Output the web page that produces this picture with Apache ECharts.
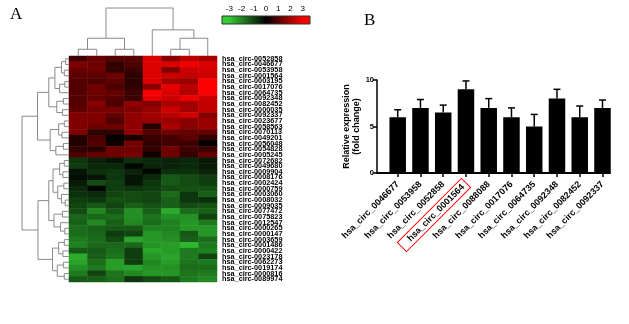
<!DOCTYPE html>
<html><head><meta charset="utf-8">
<script src="https://cdn.jsdelivr.net/npm/echarts@6/dist/echarts.min.js"></script>
<style>html,body{margin:0;padding:0;background:#fff}#c{width:629px;height:324px}</style>
</head><body><div id="c"></div>
<script>
// ---------- Panel A: heatmap ----------
const heatCols = ['S1','S2','S3','S4','S5','S6','S7','S8'];
const rowIds = ['0052858','0046677','0053958','0001564','0003195','0017076','0064735','0092348','0082452','0000035',
  '0092337','0023677','0058563','0070113','0049201','0056048','0054828','0005245','0072682','0049680',
  '0009904','0008176','0002424','0000759','0003060','0008032','0009035','0077472','0075823','0012547',
  '0000265','0000147','0003659','0001486','0000422','0023178','0062273','0019174','0000816','0089974'];
const heatValues = [
  [0.7,1.2,1.0,1.0,2.6,1.6,2.2,2.0],
  [1.5,1.3,0.6,0.9,2.6,2.6,2.8,2.6],
  [1.2,1.3,0.6,0.7,2.6,1.5,2.4,2.5],
  [1.1,1.1,1.3,0.5,2.6,2.4,2.3,2.4],
  [1.0,0.9,1.1,0.5,2.6,1.9,1.8,3.0],
  [1.0,1.3,0.9,0.6,1.6,2.7,2.2,3.3],
  [1.0,1.3,1.2,0.7,3.0,2.6,2.1,3.3],
  [1.0,1.2,1.0,0.7,2.7,2.4,2.8,2.4],
  [1.0,1.6,0.9,1.7,1.5,2.0,1.9,2.3],
  [1.1,1.4,1.4,1.5,1.8,2.4,1.9,2.3],
  [1.5,1.5,1.2,1.7,1.9,2.2,2.5,1.6],
  [1.5,1.5,0.9,1.7,1.8,1.8,1.6,1.8],
  [1.5,1.3,1.3,1.7,0.4,2.0,1.6,1.8],
  [1.5,0.5,0.6,1.7,1.0,1.3,1.2,1.2],
  [0.4,0.9,0.0,0.3,0.7,0.8,1.1,0.6],
  [0.4,1.0,0.2,1.4,0.6,0.8,0.7,0.0],
  [0.6,0.5,1.3,1.3,0.6,1.3,0.8,0.7],
  [0.9,1.2,1.3,1.4,0.2,1.3,0.6,1.2],
  [-0.8,-0.5,-0.3,-0.7,-0.6,-0.5,-0.6,-0.4],
  [-0.9,-0.6,-0.6,-0.1,-0.5,-0.5,-0.6,-0.4],
  [-0.3,-0.7,-0.8,-0.5,-0.1,-0.7,-0.7,-0.5],
  [-0.2,-0.3,-0.8,-0.3,-0.6,-1.3,-1.1,-0.9],
  [-0.4,-1.1,-0.9,-0.3,-0.8,-1.3,-1.1,-0.9],
  [-0.6,-0.1,-0.9,-0.8,-0.9,-1.1,-1.2,-1.2],
  [-0.7,-0.6,-1.0,-1.1,-1.0,-1.6,-0.8,-1.4],
  [-0.9,-0.8,-1.2,-1.1,-1.0,-1.4,-0.8,-0.7],
  [-1.0,-1.3,-1.0,-1.4,-1.2,-1.4,-1.1,-1.2],
  [-1.1,-2.0,-1.3,-2.1,-1.4,-2.5,-1.6,-1.4],
  [-1.5,-1.5,-1.6,-2.1,-1.7,-2.1,-2.1,-1.0],
  [-1.4,-2.0,-1.4,-2.0,-1.6,-1.9,-2.2,-1.8],
  [-1.6,-1.4,-1.3,-1.3,-1.9,-1.9,-2.2,-2.2],
  [-1.6,-1.5,-0.9,-1.0,-2.2,-2.0,-1.3,-2.2],
  [-1.8,-1.6,-1.1,-2.4,-2.2,-2.1,-1.4,-1.6],
  [-1.9,-1.5,-1.5,-1.5,-2.2,-2.3,-2.7,-1.8],
  [-1.3,-1.3,-1.6,-0.9,-2.4,-2.3,-1.8,-1.9],
  [-2.5,-1.4,-1.7,-0.9,-2.2,-2.4,-1.8,-1.0],
  [-2.4,-1.6,-2.3,-0.9,-2.0,-2.3,-1.7,-1.8],
  [-2.1,-1.8,-2.3,-2.4,-2.1,-2.1,-1.6,-1.6],
  [-1.8,-1.0,-1.7,-2.0,-2.2,-2.2,-1.7,-1.8],
  [-1.3,-1.4,-1.6,-0.8,-1.1,-1.3,-1.8,-2.0]
];
// dendrograms: [mergeHeight, left, right], leaves = index
const colTree = [10, [3.7, [1.4, 0, 1], [1.4, 2, 3]], [5.45, 4, [3.7, [1.4, 5, 6], 7]]];
const rowTree = [10,
  [6.7,
    [4.3, [3.0, [1.6, [0.7, 0, 1], [1.0, 2, 3]], [2.0, [0.9, 4, 5], 6]], [2.6, [1.2, 7, 8], [1.4, 9, 10]]],
    [4.0, [2.2, [1.0, 11, 12], [1.5, 13, 14]], [2.8, [1.2, 15, 16], 17]]],
  [6.6,
    [4.3, [3.4, [2.0, [1.0, 18, 19], [1.3, 20, 21]], [2.4, [1.1, 22, 23], [1.6, 24, [0.8, 25, 26]]]],
          [3.2, [1.4, 27, 28], [1.8, 29, [0.9, 30, 31]]]],
    [3.5, [2.2, [1.0, 32, 33], [1.3, 34, 35]], [2.5, [1.2, 36, 37], [1.0, 38, 39]]]]
];
const legendTicks = [-3, -2, -1, 0, 1, 2, 3];
const colorMin = -3, colorMax = 3;
const heatColors = ['#33cc33', '#000000', '#ff0000'];

// ---------- Panel B: bars ----------
const barCats = ['hsa_circ_0046677','hsa_circ_0053958','hsa_circ_0052858','hsa_circ_0001564','hsa_circ_0088088',
  'hsa_circ_0017076','hsa_circ_0064735','hsa_circ_0092348','hsa_circ_0082452','hsa_circ_0092337'];
const barValues = [6.0, 7.0, 6.5, 9.0, 7.0, 6.0, 5.0, 8.0, 6.0, 7.0];
const barErrors = [0.8, 0.9, 0.8, 0.9, 1.0, 1.0, 1.3, 1.0, 1.2, 0.85];
const highlightedCat = 'hsa_circ_0001564';
const barTicks = [0, 5, 10];

function dendroSegments(tree) {
  const segs = [];
  function walk(n) {
    if (typeof n === 'number') return { p: n, h: 0 };
    const L = walk(n[1]), R = walk(n[2]);
    segs.push([L.p, L.h, n[0], R.p, R.h]);
    return { p: (L.p + R.p) / 2, h: n[0] };
  }
  walk(tree);
  return segs;
}

const heatData = [];
heatValues.forEach((row, r) => row.forEach((v, c) => heatData.push([c, r, v])));
const barIdx = barCats.map((c, i) => i);

const chart = echarts.init(document.getElementById('c'), null, { renderer: 'canvas' });
const dendroStyle = { stroke: '#8a8a8a', lineWidth: 1, fill: null };
const hidden = { show: false };

const legendMinX = -3.6, legendMaxX = 3.6;
function stopColor(v) {
  if (v <= 0) return echarts.color.lerp((v - colorMin) / (0 - colorMin), [heatColors[0], heatColors[1]]);
  return echarts.color.lerp(v / colorMax, [heatColors[1], heatColors[2]]);
}

const option = {
  animation: false,
  backgroundColor: '#fff',
  textStyle: { fontFamily: 'Arial, "Liberation Sans", sans-serif' },
  graphic: [
    { type: 'text', left: 10, top: 6, style: { text: 'A', font: '17px "Liberation Serif", serif', fill: '#000' } },
    { type: 'text', left: 364, top: 12, style: { text: 'B', font: '17px "Liberation Serif", serif', fill: '#000' } }
  ],
  grid: [
    { left: 69, top: 56, width: 148, height: 226 },          // heatmap
    { left: 69, top: 8, width: 148, height: 48 },            // col dendro
    { left: 22, top: 56, width: 47, height: 226 },           // row dendro
    { left: 222, top: 16, width: 88, height: 8 },            // color legend
    { left: 377, top: 80, width: 233, height: 93 }           // bars
  ],
  visualMap: {
    show: false, type: 'continuous', min: colorMin, max: colorMax, seriesIndex: 0,
    inRange: { color: heatColors }
  },
  xAxis: [
    { gridIndex: 0, type: 'category', data: heatCols, axisLine: hidden, axisTick: hidden, axisLabel: hidden },
    { gridIndex: 1, type: 'value', min: -0.5, max: 7.5, show: false },
    { gridIndex: 2, type: 'value', min: 0, max: 10, inverse: true, show: false },
    { gridIndex: 3, type: 'value', min: legendMinX, max: legendMaxX, position: 'top',
      axisLine: hidden, splitLine: hidden,
      axisTick: { show: true, inside: false, length: 2, customValues: legendTicks, lineStyle: { color: '#000' } },
      axisLabel: { customValues: legendTicks, fontSize: 8, color: '#000', margin: 3 } },
    { gridIndex: 4, type: 'value', min: -0.91, max: 9.33, splitLine: hidden, position: 'bottom',
      axisLine: { show: true, onZero: false, lineStyle: { color: '#000', width: 2 } },
      axisTick: { show: true, length: 4, customValues: barIdx, lineStyle: { color: '#000', width: 1.5 } },
      axisLabel: { customValues: barIdx, rotate: 45, margin: 10, fontSize: 9, fontWeight: 'bold', color: '#000',
        formatter: v => { const name = barCats[Math.round(v)]; return name === highlightedCat ? '{box|' + name + '}' : name; },
        rich: { box: { fontSize: 9, fontWeight: 'bold', color: '#000', borderColor: '#ff0000', borderWidth: 1,
          padding: [2, 4, 2, 10] } } } }
  ],
  yAxis: [
    { gridIndex: 0, type: 'category', data: rowIds.map(id => 'hsa_circ-' + id), inverse: true, position: 'right',
      axisLine: hidden, axisTick: hidden,
      axisLabel: { interval: 0, fontSize: 7.3, fontWeight: 'bold', color: '#000', margin: 5 } },
    { gridIndex: 1, type: 'value', min: 0, max: 10, show: false },
    { gridIndex: 2, type: 'value', min: -0.5, max: 39.5, inverse: true, show: false },
    { gridIndex: 3, type: 'value', min: 0, max: 1, show: false },
    { gridIndex: 4, type: 'value', min: 0, max: 10, splitLine: hidden, position: 'left',
      axisLine: { show: true, onZero: false, lineStyle: { color: '#000', width: 1.5 } },
      axisTick: { show: true, length: 4, customValues: barTicks, lineStyle: { color: '#000', width: 1.5 } },
      axisLabel: { customValues: barTicks, fontSize: 7.5, fontWeight: 'bold', color: '#000', margin: 3 },
      name: 'Relative expression\n(fold change)', nameLocation: 'middle', nameGap: 9,
      nameTextStyle: { fontSize: 9, fontWeight: 'bold', color: '#000', lineHeight: 10 } }
  ],
  series: [
    { type: 'heatmap', xAxisIndex: 0, yAxisIndex: 0, data: heatData, itemStyle: { borderWidth: 0 } },
    { type: 'custom', xAxisIndex: 1, yAxisIndex: 1, data: dendroSegments(colTree), silent: true,
      renderItem: (params, api) => {
        const pL = api.value(0), hL = api.value(1), h = api.value(2), pR = api.value(3), hR = api.value(4);
        return { type: 'polyline', shape: { points: [api.coord([pL, hL]), api.coord([pL, h]), api.coord([pR, h]), api.coord([pR, hR])] }, style: dendroStyle };
      } },
    { type: 'custom', xAxisIndex: 2, yAxisIndex: 2, data: dendroSegments(rowTree), silent: true,
      renderItem: (params, api) => {
        const pL = api.value(0), hL = api.value(1), h = api.value(2), pR = api.value(3), hR = api.value(4);
        return { type: 'polyline', shape: { points: [api.coord([hL, pL]), api.coord([h, pL]), api.coord([h, pR]), api.coord([hR, pR])] }, style: dendroStyle };
      } },
    { type: 'custom', xAxisIndex: 3, yAxisIndex: 3, data: [[legendMinX, legendMaxX]], silent: true,
      renderItem: (params, api) => {
        const a = api.coord([api.value(0), 1]), b = api.coord([api.value(1), 0]);
        const span = legendMaxX - legendMinX;
        const stops = [legendMinX, colorMin, 0, colorMax, legendMaxX].map(v => ({
          offset: (v - legendMinX) / span, color: stopColor(Math.max(colorMin, Math.min(colorMax, v))) }));
        return { type: 'rect', shape: { x: a[0], y: a[1], width: b[0] - a[0], height: b[1] - a[1] },
          style: { fill: new echarts.graphic.LinearGradient(0, 0, 1, 0, stops), stroke: '#333', lineWidth: 1 } };
      } },
    { type: 'bar', xAxisIndex: 4, yAxisIndex: 4, data: barValues.map((v, i) => [i, v]), barWidth: 16.5,
      itemStyle: { color: '#000' } },
    { type: 'custom', xAxisIndex: 4, yAxisIndex: 4, silent: true,
      data: barValues.map((v, i) => [i, v, barErrors[i]]),
      renderItem: (params, api) => {
        const base = api.coord([api.value(0), api.value(1)]);
        const top = api.coord([api.value(0), api.value(1) + api.value(2)]);
        const st = { stroke: '#000', lineWidth: 1.5 };
        return { type: 'group', children: [
          { type: 'line', shape: { x1: base[0], y1: base[1], x2: top[0], y2: top[1] }, style: st },
          { type: 'line', shape: { x1: top[0] - 3.5, y1: top[1], x2: top[0] + 3.5, y2: top[1] }, style: st }
        ] };
      } }
  ]
};
chart.setOption(option);
</script></body></html>
